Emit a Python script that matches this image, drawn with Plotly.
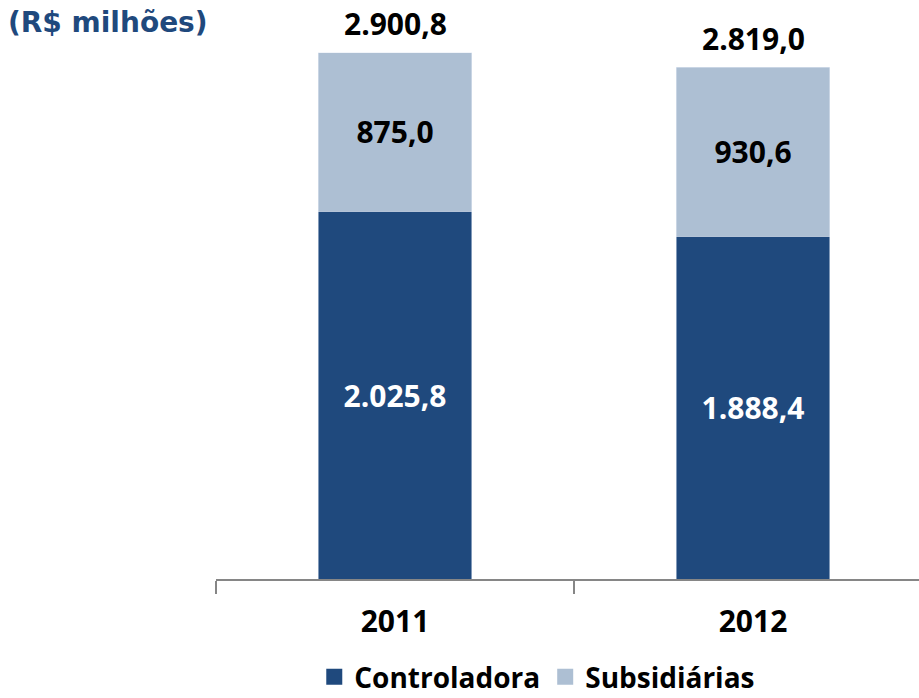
import plotly.graph_objects as go

years = ["2011", "2012"]
controladora = [2025.8, 1888.4]
subsidiarias = [875.0, 930.6]
totals = [2900.8, 2819.0]

DARK = "#1F497D"
LIGHT = "#ADBFD3"
FONT = "Open Sans"


def fmt_br(v):
    s = f"{v:,.1f}"
    return s.replace(",", "X").replace(".", ",").replace("X", ".")


fig = go.Figure()
fig.add_trace(go.Bar(
    x=years, y=controladora, name="Controladora", marker_color=DARK,
    width=0.43, text=[fmt_br(v) for v in controladora],
    textposition="inside", insidetextanchor="middle", textangle=0,
    textfont=dict(family=FONT, size=30, color="white", weight="bold"),
    showlegend=False,
))
fig.add_trace(go.Bar(
    x=years, y=subsidiarias, name="Subsidiárias", marker_color=LIGHT,
    width=0.43, text=[fmt_br(v) for v in subsidiarias],
    textposition="inside", insidetextanchor="middle", textangle=0,
    textfont=dict(family=FONT, size=30, color="black", weight="bold"),
    showlegend=False,
))
# legend entries with large square swatches
for name, col in [("Controladora", DARK), ("Subsidiárias", LIGHT)]:
    fig.add_trace(go.Scatter(
        x=[None], y=[None], mode="markers", name=name,
        marker=dict(symbol="square", size=19, color=col),
    ))

for i, t in enumerate(totals):
    fig.add_annotation(
        x=i, y=t, xref="x", yref="y", text=fmt_br(t), showarrow=False,
        yanchor="bottom", yshift=6,
        font=dict(family=FONT, size=30, color="black", weight="bold"),
    )

fig.update_layout(
    width=919, height=698,
    margin=dict(l=216, r=0, t=30, b=119, autoexpand=False),
    barmode="stack",
    plot_bgcolor="white", paper_bgcolor="white",
    title=dict(
        text="<b>(R$ milhões)</b>", x=8 / 919, xanchor="left",
        y=1 - 22 / 698, yanchor="middle", xref="container", yref="container",
        font=dict(family="DejaVu Sans", size=28, color=DARK),
    ),
    xaxis=dict(
        type="category", range=[-0.5, 1.5 - 13 / 358],
        showline=True, linecolor="#868686", linewidth=1.5,
        ticks="outside", tickson="boundaries", ticklen=13,
        tickcolor="#868686", tickwidth=1.5, ticklabelstandoff=15,
        tickfont=dict(family=FONT, size=30, color="black", weight="bold"),
        showgrid=False, zeroline=False,
    ),
    yaxis=dict(
        range=[0, 549 / 0.1815], visible=False, showgrid=False,
        zeroline=False,
    ),
    legend=dict(
        orientation="h", x=0.457, xanchor="center",
        y=(698 - 119 - 677) / 549, yanchor="middle",
        font=dict(family=FONT, size=28, color="black", weight="bold"),
        itemwidth=30, traceorder="normal",
    ),
    showlegend=True,
)

fig.write_html("out.html")
